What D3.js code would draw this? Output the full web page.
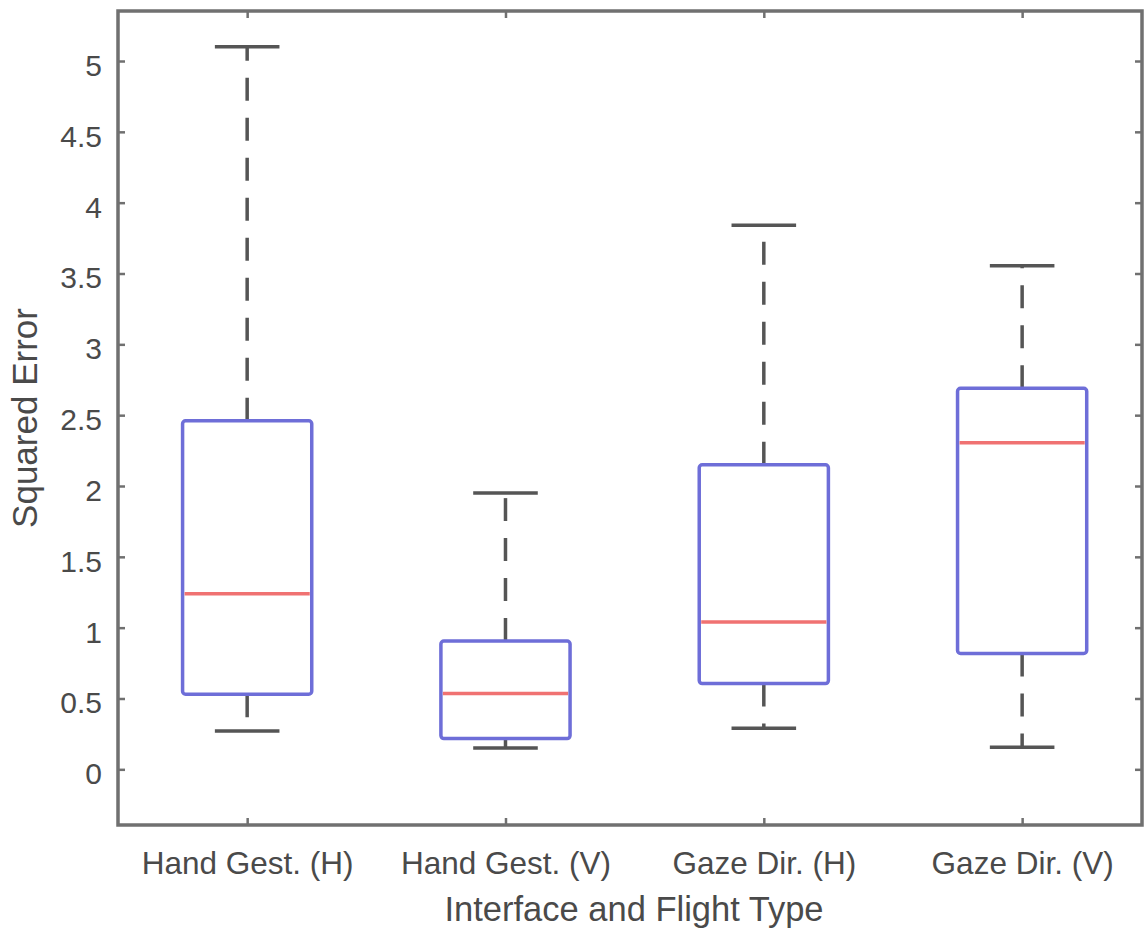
<!DOCTYPE html>
<html>
<head>
<meta charset="utf-8">
<script src="https://cdn.jsdelivr.net/npm/d3@7"></script>
<style>
  html, body { margin: 0; padding: 0; background: #fff; }
  svg { display: block; }
  text { font-family: "Liberation Sans", Arial, sans-serif; fill: #4a4a4a; }
</style>
</head>
<body>
<svg id="chart" width="1144" height="928"></svg>
<script>
// ---- data ----
const categories = ["Hand Gest. (H)", "Hand Gest. (V)", "Gaze Dir. (H)", "Gaze Dir. (V)"];
const whiskerLow  = [0.27, 0.15, 0.29, 0.155];
const q1          = [0.53, 0.217, 0.605, 0.818];
const medians     = [1.24, 0.535, 1.04, 2.305];
const q3          = [2.46, 0.905, 2.15, 2.69];
const whiskerHigh = [5.10, 1.95, 3.84, 3.555];
const yTicks = [0, 0.5, 1, 1.5, 2, 2.5, 3, 3.5, 4, 4.5, 5];
const yTickLabels = ["0", "0.5", "1", "1.5", "2", "2.5", "3", "3.5", "4", "4.5", "5"];
const xTitle = "Interface and Flight Type";
const yTitle = "Squared Error";

const svg = d3.select("#chart");
const L = 118, R = 1142, T = 11, B = 825;

const x = d3.scaleLinear().domain([0.5, 4.464]).range([L, R]);
const y = d3.scaleLinear().domain([-0.393, 5.353]).range([B, T]);

const boxHalf = 0.25, capHalf = 0.125;
const data = categories.map((c, i) => ({
  c, i: i + 1, lo: whiskerLow[i], q1: q1[i], med: medians[i], q3: q3[i], hi: whiskerHigh[i]
}));

const g = svg.append("g");

// whiskers (dashed)
g.selectAll(".wu").data(data).join("line")
  .attr("x1", d => x(d.i)).attr("x2", d => x(d.i))
  .attr("y1", d => y(d.q3)).attr("y2", d => y(d.hi))
  .attr("stroke", "#555").attr("stroke-width", 3.5)
  .attr("stroke-dasharray", "23 17");
g.selectAll(".wl").data(data).join("line")
  .attr("x1", d => x(d.i)).attr("x2", d => x(d.i))
  .attr("y1", d => y(d.q1)).attr("y2", d => y(d.lo))
  .attr("stroke", "#555").attr("stroke-width", 3.5)
  .attr("stroke-dasharray", "23 17");
// caps
["hi", "lo"].forEach(k => {
  g.selectAll(".cap" + k).data(data).join("line")
    .attr("x1", d => x(d.i - capHalf)).attr("x2", d => x(d.i + capHalf))
    .attr("y1", d => y(d[k])).attr("y2", d => y(d[k]))
    .attr("stroke", "#555").attr("stroke-width", 3.5);
});
// boxes
g.selectAll(".box").data(data).join("rect")
  .attr("x", d => x(d.i - boxHalf))
  .attr("width", d => x(d.i + boxHalf) - x(d.i - boxHalf))
  .attr("y", d => y(d.q3))
  .attr("height", d => y(d.q1) - y(d.q3))
  .attr("rx", 3)
  .attr("fill", "none").attr("stroke", "#6e6ed8").attr("stroke-width", 3.5);
// medians
g.selectAll(".med").data(data).join("line")
  .attr("x1", d => x(d.i - boxHalf) + 2).attr("x2", d => x(d.i + boxHalf) - 2)
  .attr("y1", d => y(d.med)).attr("y2", d => y(d.med))
  .attr("stroke", "#f07272").attr("stroke-width", 3.5);

// axes frame
const axisColor = "#707070";
const yAxis = d3.axisLeft(y).tickValues(yTicks).tickFormat((d, i) => yTickLabels[i]).tickSizeInner(-7).tickSizeOuter(0).tickPadding(16);
const yAx = svg.append("g").attr("transform", `translate(${L},0)`).call(yAxis);
yAx.select(".domain").remove();
yAx.selectAll("line").attr("stroke", axisColor).attr("stroke-width", 2.5);
yAx.selectAll("text").style("font-size", "30px").attr("fill", "#4a4a4a").attr("dy", "0.48em");

const yAxR = svg.append("g").attr("transform", `translate(${R},0)`).call(d3.axisRight(y).tickValues(yTicks).tickFormat("").tickSizeInner(-7).tickSizeOuter(0));
yAxR.select(".domain").remove();
yAxR.selectAll("line").attr("stroke", axisColor).attr("stroke-width", 2.5);

const xAxis = d3.axisBottom(x).tickValues([1, 2, 3, 4]).tickFormat((d, i) => categories[i]).tickSizeInner(-7).tickSizeOuter(0).tickPadding(27);
const xAx = svg.append("g").attr("transform", `translate(0,${B})`).call(xAxis);
xAx.select(".domain").remove();
xAx.selectAll("line").attr("stroke", axisColor).attr("stroke-width", 2.5);
xAx.selectAll("text").style("font-size", "31.5px").attr("fill", "#4a4a4a");

const xAxT = svg.append("g").attr("transform", `translate(0,${T})`).call(d3.axisTop(x).tickValues([1, 2, 3, 4]).tickFormat("").tickSizeInner(-7).tickSizeOuter(0));
xAxT.select(".domain").remove();
xAxT.selectAll("line").attr("stroke", axisColor).attr("stroke-width", 2.5);

// frame
svg.append("rect").attr("x", L).attr("y", T).attr("width", R - L).attr("height", B - T)
  .attr("fill", "none").attr("stroke", axisColor).attr("stroke-width", 3.5);

// titles
svg.append("text").attr("x", (L + R) / 2 + 4).attr("y", 921)
  .attr("text-anchor", "middle").style("font-size", "34.5px").text(xTitle);
svg.append("text").attr("transform", `translate(37,${(T + B) / 2}) rotate(-90)`)
  .attr("text-anchor", "middle").style("font-size", "35px").text(yTitle);
</script>
</body>
</html>
